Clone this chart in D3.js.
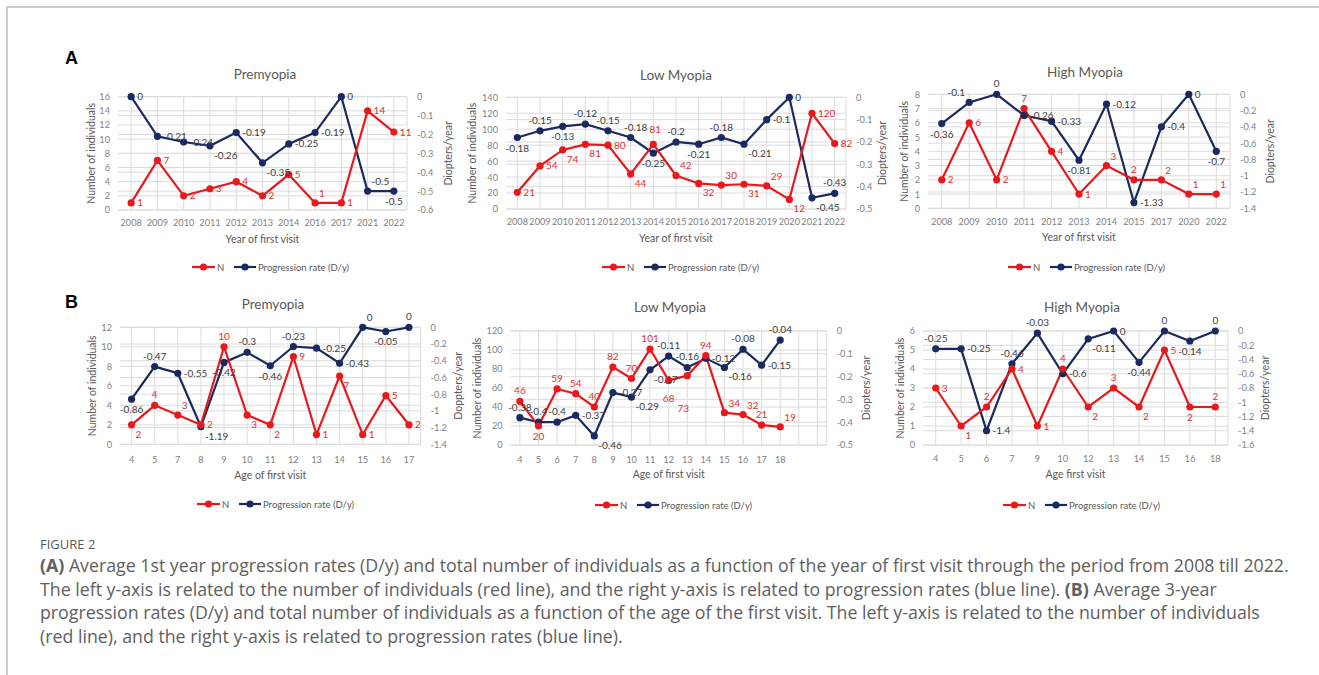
<!DOCTYPE html>
<html><head><meta charset="utf-8">
<script src="https://cdn.jsdelivr.net/npm/d3@7"></script>
<style>body{margin:0;background:#fff}svg{display:block}</style>
</head><body>
<svg id="c" width="1319" height="675"></svg>
<script>
// ---------- DATA ----------
const yearsA1 = ['2008','2009','2010','2011','2012','2013','2014','2016','2017','2021','2022'];
const nA1 = [1,7,2,3,4,2,5,1,1,14,11];
const rateA1 = [0,-0.21,-0.24,-0.26,-0.19,-0.35,-0.25,-0.19,0,-0.5,-0.5];

const yearsA2 = ['2008','2009','2010','2011','2012','2013','2014','2015','2016','2017','2018','2019','2020','2021','2022'];
const nA2 = [21,54,74,81,80,44,81,42,32,30,31,29,12,120,82];
const rateA2 = [-0.18,-0.15,-0.13,-0.12,-0.15,-0.18,-0.25,-0.2,-0.21,-0.18,-0.21,-0.1,0,-0.45,-0.43];

const yearsA3 = ['2008','2009','2010','2011','2012','2013','2014','2015','2017','2020','2022'];
const nA3 = [2,6,2,7,4,1,3,2,2,1,1];
const rateA3 = [-0.36,-0.1,0,-0.26,-0.33,-0.81,-0.12,-1.33,-0.4,0,-0.7];

const agesB1 = ['4','5','7','8','9','10','11','12','13','14','15','16','17'];
const nB1 = [2,4,3,2,10,3,2,9,1,7,1,5,2];
const rateB1 = [-0.86,-0.47,-0.55,-1.19,-0.42,-0.3,-0.46,-0.23,-0.25,-0.43,0,-0.05,0];

const agesB2 = ['4','5','6','7','8','9','10','11','12','13','14','15','16','17','18'];
const nB2 = [46,20,59,54,40,82,70,101,68,73,94,34,32,21,19];
const rateB2 = [-0.38,-0.4,-0.4,-0.37,-0.46,-0.27,-0.29,-0.17,-0.11,-0.16,-0.12,-0.16,-0.08,-0.15,-0.04];

const agesB3 = ['4','5','6','7','9','10','12','13','14','15','16','18'];
const nB3 = [3,1,2,4,1,4,2,3,2,5,2,2];
const rateB3 = [-0.25,-0.25,-1.4,-0.46,-0.03,-0.6,-0.11,0,-0.44,0,-0.14,0];

// axis ticks
const ticksNA1 = [0,2,4,6,8,10,12,14,16];
const ticksRA1 = [0,-0.1,-0.2,-0.3,-0.4,-0.5,-0.6];
const ticksNA2 = [0,20,40,60,80,100,120,140];
const ticksRA2 = [0,-0.1,-0.2,-0.3,-0.4,-0.5];
const ticksNA3 = [0,1,2,3,4,5,6,7,8];
const ticksRA3 = [0,-0.2,-0.4,-0.6,-0.8,-1,-1.2,-1.4];
const ticksNB1 = [0,2,4,6,8,10,12];
const ticksRB1 = [0,-0.2,-0.4,-0.6,-0.8,-1,-1.2,-1.4];
const ticksNB2 = [0,20,40,60,80,100,120];
const ticksRB2 = [0,-0.1,-0.2,-0.3,-0.4,-0.5];
const ticksNB3 = [0,1,2,3,4,5,6];
const ticksRB3 = [0,-0.2,-0.4,-0.6,-0.8,-1,-1.2,-1.4,-1.6];

// data label placement codes (see OFF below)
const lpA1N = ['r','r','r','r','r','r','r','ar','r','r','r'];
const lpA1R = ['r','r','r','br','r','br','r','r','r','ar','b'];
const lpA2N = ['r','r','br','br','r','br','aa','ar','br','ar','br','ar','br','r','r'];
const lpA2R = ['b','a','b','a','a','a+','b','a','b','a','br','r','r','br','a'];
const lpA3N = ['r','r','r','a','r','r','ar','a','ar','ar','ar'];
const lpA3R = ['b','al','a','r','r','b','r','r','r','r','b'];
const lpB1N = ['br','a','ar','r','a','br','br','r','r','br','r','r','r'];
const lpB1R = ['b','a','r','br','b','a','b','a','r','r','ar','b','a'];
const lpB2N = ['a','b','a','a','a','a','a','a','bb','b3','a','ar','ar','a','ar'];
const lpB2R = ['a','a','a','r','br','r','br','br','a','a','r','br','a','r','a'];
const lpB3N = ['r','br','a','r','r','a','br','a','br','r','b','a'];
const lpB3R = ['a','r','r','a','a','r','br','r','b','a','b','a'];

// ---------- DRAW ----------
const RED = '#e8191c', NAVY = '#1b2a5e';
const RED_TXT = '#d8342f', DARK_TXT = '#404040', AX_TXT = '#7f7f7f', TITLE_TXT = '#595959', GRID = '#dcdcdc';
const FONT = 'Lato, "Open Sans", sans-serif';
const svg = d3.select('#c');

svg.append('path').attr('d','M7,675 V7 H1319').attr('fill','none').attr('stroke','#bdbdbd').attr('stroke-width',1.5);

const panels = [
 {cats:yearsA1,n:nA1,r:rateA1,tN:ticksNA1,tR:ticksRA1,lpN:lpA1N,lpR:lpA1R,box:[118,407,96.7,210],title:'Premyopia',tX:265,tY:79,
  xT:'Year of first visit',xLY:226,xTY:243,yTX:91,rT:'Diopters/year',rTX:448,lgX:192,lgY:267,pad:0},
 {cats:yearsA2,n:nA2,r:rateA2,tN:ticksNA2,tR:ticksRA2,lpN:lpA2N,lpR:lpA2R,box:[506,846,97.3,209],title:'Low Myopia',tX:676,tY:80,
  xT:'Year of first visit',xLY:225,xTY:242,yTX:472,rT:'Diopters/year',rTX:882,lgX:602,lgY:267,pad:0},
 {cats:yearsA3,n:nA3,r:rateA3,tN:ticksNA3,tR:ticksRA3,lpN:lpA3N,lpR:lpA3R,box:[928,1230,94.3,208.3],title:'High Myopia',tX:1085,tY:77,
  xT:'Year of first visit',xLY:225,xTY:241,yTX:904,rT:'Diopters/year',rTX:1270,lgX:1008,lgY:267,pad:0},
 {cats:agesB1,n:nB1,r:rateB1,tN:ticksNB1,tR:ticksRB1,lpN:lpB1N,lpR:lpB1R,box:[120,420.5,327.3,444.3],title:'Premyopia',tX:273,tY:309,
  xT:'Age of first visit',xLY:463,xTY:479,yTX:92,rT:'Doppters/year',rTX:458,lgX:197,lgY:504,pad:0},
 {cats:agesB2,n:nB2,r:rateB2,tN:ticksNB2,tR:ticksRB2,lpN:lpB2N,lpR:lpB2R,box:[510.6,826.7,331,445],title:'Low Myopia',tX:670,tY:312,
  xT:'Age of first visit',xLY:463,xTY:478,yTX:477,rT:'Diopters/year',rTX:866,lgX:595,lgY:505,pad:2},
 {cats:agesB3,n:nB3,r:rateB3,tN:ticksNB3,tR:ticksRB3,lpN:lpB3N,lpR:lpB3R,box:[923,1228,331,445],title:'High Myopia',tX:1082,tY:312,
  xT:'Age first visit',xLY:462,xTY:478,yTX:900,rT:'Diopters/year',rTX:1265,lgX:1003,lgY:505,pad:0}
];

const OFF = {
  r:[6,3.5,'start'], l:[-6,3.5,'end'], a:[0,-7,'middle'], b:[0,14,'middle'],
  ar:[4,-6,'start'], br:[4,13,'start'], al:[-4,-6,'end'], bl:[-4,13,'end'],
  'a+':[5,-7,'middle'], aa:[2,-11,'middle'], bb:[0,22,'middle'], b3:[-4,36,'middle']
};
const fmt = v => String(+v.toFixed(2));

panels.forEach(p => {
  const [x0,x1,yT,yB] = p.box;
  const g = svg.append('g');
  const dom = p.cats.slice();
  for (let i=0;i<p.pad;i++) dom.push('__pad'+i);
  const xb = d3.scaleBand().domain(dom).range([x0,x1]).padding(0);
  const xc = c => xb(c) + xb.bandwidth()/2;
  const yN = d3.scaleLinear().domain([d3.min(p.tN), d3.max(p.tN)]).range([yB,yT]);
  const yR = d3.scaleLinear().domain([d3.min(p.tR), d3.max(p.tR)]).range([yB,yT]);

  const grid = g.append('g').attr('stroke',GRID).attr('stroke-width',1);
  p.tN.forEach(t => grid.append('line').attr('x1',x0).attr('x2',x1).attr('y1',yN(t)).attr('y2',yN(t)));
  p.tR.forEach(t => grid.append('line').attr('x1',x0).attr('x2',x1).attr('y1',yR(t)).attr('y2',yR(t)));
  dom.forEach(c => grid.append('line').attr('x1',xc(c)).attr('x2',xc(c)).attr('y1',yT).attr('y2',yB));
  grid.append('line').attr('x1',x1).attr('x2',x1).attr('y1',yT).attr('y2',yB);

  const axL = g.append('g').attr('transform',`translate(${x0},0)`)
    .call(d3.axisLeft(yN).tickValues(p.tN).tickSize(0).tickPadding(8).tickFormat(fmt));
  const axR = g.append('g').attr('transform',`translate(${x1},0)`)
    .call(d3.axisRight(yR).tickValues(p.tR).tickSize(0).tickPadding(10).tickFormat(fmt));
  const axB = g.append('g').attr('transform',`translate(0,${p.xLY-10})`)
    .call(d3.axisBottom(xb).tickSize(0).tickPadding(3).tickFormat(d => d.startsWith('__pad') ? '' : d));
  [axL,axR,axB].forEach(a => {
    a.select('.domain').remove();
    a.selectAll('text').attr('fill',AX_TXT).style('font-family',FONT).style('font-size','9.2px');
  });

  g.append('text').attr('x',p.tX).attr('y',p.tY).attr('text-anchor','middle').attr('fill',TITLE_TXT)
    .style('font-family',FONT).style('font-size','13.5px').text(p.title);
  g.append('text').attr('x',(x0+x1)/2).attr('y',p.xTY).attr('text-anchor','middle').attr('fill',TITLE_TXT)
    .style('font-family',FONT).style('font-size','10.5px').text(p.xT);
  const yc = (yT+yB)/2;
  g.append('text').attr('transform',`translate(${p.yTX},${yc}) rotate(-90)`).attr('dy','0.35em').attr('text-anchor','middle')
    .attr('fill',TITLE_TXT).style('font-family',FONT).style('font-size','10.5px').text('Number of individuals');
  g.append('text').attr('transform',`translate(${p.rTX},${yc}) rotate(-90)`).attr('dy','0.35em').attr('text-anchor','middle')
    .attr('fill',TITLE_TXT).style('font-family',FONT).style('font-size','10.5px').text(p.rT);

  const lineN = d3.line().x((d,i)=>xc(p.cats[i])).y(d=>yN(d));
  const lineR = d3.line().x((d,i)=>xc(p.cats[i])).y(d=>yR(d));
  g.append('path').datum(p.r).attr('d',lineR).attr('fill','none').attr('stroke',NAVY).attr('stroke-width',2.2);
  g.append('path').datum(p.n).attr('d',lineN).attr('fill','none').attr('stroke',RED).attr('stroke-width',2.2);
  g.selectAll(null).data(p.r).enter().append('circle').attr('cx',(d,i)=>xc(p.cats[i])).attr('cy',d=>yR(d)).attr('r',3.6).attr('fill',NAVY);
  g.selectAll(null).data(p.n).enter().append('circle').attr('cx',(d,i)=>xc(p.cats[i])).attr('cy',d=>yN(d)).attr('r',3.6).attr('fill',RED);

  const lbl = (vals, ys, lp, col) => {
    vals.forEach((v,i) => {
      const o = OFF[lp[i]] || OFF.r;
      g.append('text').attr('x',xc(p.cats[i])+o[0]).attr('y',ys(v)+o[1]).attr('text-anchor',o[2])
        .attr('fill',col).style('font-family',FONT).style('font-size','10px').text(fmt(v));
    });
  };
  lbl(p.r, yR, p.lpR, DARK_TXT);
  lbl(p.n, yN, p.lpN, RED_TXT);

  const lx = p.lgX, ly = p.lgY;
  const lg = g.append('g');
  lg.append('line').attr('x1',lx).attr('x2',lx+23).attr('y1',ly).attr('y2',ly).attr('stroke',RED).attr('stroke-width',2.2);
  lg.append('circle').attr('cx',lx+11.5).attr('cy',ly).attr('r',3.6).attr('fill',RED);
  lg.append('text').attr('x',lx+25).attr('y',ly+3.5).attr('fill',TITLE_TXT).style('font-family',FONT).style('font-size','9.5px').text('N');
  lg.append('line').attr('x1',lx+42).attr('x2',lx+64).attr('y1',ly).attr('y2',ly).attr('stroke',NAVY).attr('stroke-width',2.2);
  lg.append('circle').attr('cx',lx+53).attr('cy',ly).attr('r',3.6).attr('fill',NAVY);
  lg.append('text').attr('x',lx+66).attr('y',ly+3.5).attr('fill',TITLE_TXT).style('font-family',FONT).style('font-size','9.5px').text('Progression rate (D/y)');
});

svg.append('text').attr('x',65).attr('y',64).style('font-family','"Liberation Sans", Arial, sans-serif').style('font-weight','bold').style('font-size','18px').attr('fill','#000').text('A');
svg.append('text').attr('x',65).attr('y',308).style('font-family','"Liberation Sans", Arial, sans-serif').style('font-weight','bold').style('font-size','18px').attr('fill','#000').text('B');

// caption
const CAP = '#606060', CAPFONT = '"Open Sans", Lato, sans-serif';
svg.append('text').attr('x',40).attr('y',549).attr('fill','#5a5a5a').style('font-family',CAPFONT).style('font-size','13px').text('FIGURE 2');
const capLines = [
  [['(A)',true],[' Average 1st year progression rates (D/y) and total number of individuals as a function of the year of first visit through the period from 2008 till 2022.',false]],
  [['The left y-axis is related to the number of individuals (red line), and the right y-axis is related to progression rates (blue line). ',false],['(B)',true],[' Average 3-year',false]],
  [['progression rates (D/y) and total number of individuals as a function of the age of the first visit. The left y-axis is related to the number of individuals',false]],
  [['(red line), and the right y-axis is related to progression rates (blue line).',false]]
];
const capNodes = capLines.map((ln,i) => {
  const t = svg.append('text').attr('x',40).attr('y',572+i*23.5).attr('fill',CAP).style('font-family',CAPFONT).style('font-size','17px');
  ln.forEach(([s,b]) => t.append('tspan').style('font-weight', b ? '700' : '400').text(s));
  return t;
});
const w0 = capNodes[0].node().getComputedTextLength();
const fs = Math.max(14, Math.min(20, 17 * 1250 / w0));
capNodes.forEach(t => t.style('font-size', fs + 'px'));
</script>
</body></html>
